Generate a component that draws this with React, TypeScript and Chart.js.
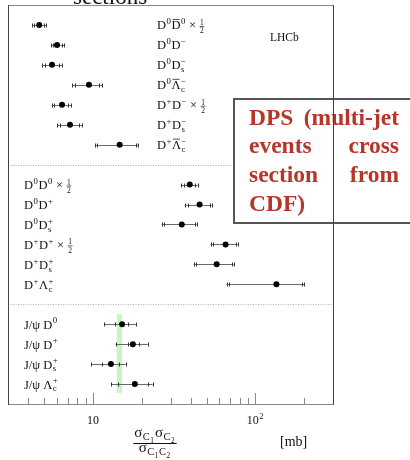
import { useEffect, useRef } from "react";
import { Chart, registerables } from "chart.js";

Chart.register(...registerables);

const W = 410;
const H = 460;
const SERIF = '"Liberation Serif", "DejaVu Serif", serif';

// Horizontal log axis
const xMin = 3;
const xMax = 300;
const majorTicks = [10, 100];
const majorTickLabels = ["10", "10^2"];
const minorTicks = [4, 5, 6, 7, 8, 9, 20, 30, 40, 50, 60, 70, 80, 90, 200];

// Opposite-charge open-charm pairs (values in mb)
const oppLabels = [
  "D^0\\bar{D}^0 × \\half",
  "D^0D^−",
  "D^0D_s^−",
  "D^0\\bar{Λ}_c^−",
  "D^+D^− × \\half",
  "D^+D_s^−",
  "D^+\\bar{Λ}_c^−",
];
const oppValue = [4.67, 6.01, 5.6, 9.45, 6.45, 7.22, 14.6];
const oppStatLo = [4.35, 5.69, 5.08, 7.76, 5.77, 6.28, 10.6];
const oppStatHi = [5.0, 6.45, 6.18, 10.9, 7.03, 8.2, 18.4];
const oppTotLo = [4.23, 5.52, 4.86, 7.43, 5.6, 6.01, 10.3];
const oppTotHi = [5.15, 6.64, 6.45, 11.4, 7.33, 8.56, 18.9];

// Same-charge open-charm pairs
const sameLabels = [
  "D^0D^0 × \\half",
  "D^0D^+",
  "D^0D_s^+",
  "D^+D^+ × \\half",
  "D^+D_s^+",
  "D^+Λ_c^+",
];
const sameValue = [39.4, 45.3, 35.2, 65.5, 57.7, 134.5];
const sameStatLo = [36.2, 38.3, 27.3, 54.5, 42.8, 69.2];
const sameStatHi = [42.3, 52.2, 42.3, 75.4, 71.3, 194];
const sameTotLo = [34.7, 36.7, 26.5, 53.0, 41.7, 66.4];
const sameTotHi = [44.1, 53.7, 43.5, 77.6, 73.3, 200];

// J/psi plus open charm
const psiLabels = ["J/ψ D^0", "J/ψ D^+", "J/ψ D_s^+", "J/ψ Λ_c^+"];
const psiValue = [15.1, 17.6, 12.9, 18.1];
const psiStatLo = [13.6, 16.4, 11.35, 14.2];
const psiStatHi = [16.4, 19.1, 14.4, 21.7];
const psiTotLo = [11.7, 13.8, 9.72, 12.9];
const psiTotHi = [18.4, 21.7, 15.9, 23.3];

// DPS effective cross section band (multi-jet events, CDF)
const cdfBand = [14.0, 15.1];

const experimentLabel = "LHCb";
const axisNumerator = "σ_{C_1}σ_{C_2}";
const axisDenominator = "σ_{C_1C_2}";
const unitLabel = "[mb]";
const headerText = "sections";
const noteLines: [string, string][] = [
  ["DPS", "(multi-jet"],
  ["events", "cross"],
  ["section", "from"],
  ["CDF)", ""],
];

// ---- row layout: three blocks separated by dotted lines
const ROW_MAX = 20;
const blocks = [
  { start: 1, labels: oppLabels, v: oppValue, sl: oppStatLo, sh: oppStatHi, tl: oppTotLo, th: oppTotHi, labelX: 157 },
  { start: 9, labels: sameLabels, v: sameValue, sl: sameStatLo, sh: sameStatHi, tl: sameTotLo, th: sameTotHi, labelX: 24 },
  { start: 16, labels: psiLabels, v: psiValue, sl: psiStatLo, sh: psiStatHi, tl: psiTotLo, th: psiTotHi, labelX: 24 },
];
const separatorRows = [8, 15];

// ---- tiny TeX-like rich text: ^ _ \bar{} \half
type RNode =
  | { k: "t"; s: string }
  | { k: "bar"; c: RNode[] }
  | { k: "sc"; sup?: RNode[]; sub?: RNode[] }
  | { k: "half" };

function readGroup(s: string, i: number): [string, number] {
  if (s[i] === "{") {
    let depth = 1;
    let j = i + 1;
    while (j < s.length && depth > 0) {
      if (s[j] === "{") depth++;
      else if (s[j] === "}") depth--;
      j++;
    }
    return [s.slice(i + 1, j - 1), j];
  }
  return [s[i], i + 1];
}

function parseRich(s: string): RNode[] {
  const out: RNode[] = [];
  let i = 0;
  while (i < s.length) {
    const ch = s[i];
    if (ch === "^" || ch === "_") {
      const [g, j] = readGroup(s, i + 1);
      let last = out[out.length - 1] as any;
      if (!last || last.k !== "sc" || (ch === "^" ? last.sup : last.sub)) {
        last = { k: "sc" };
        out.push(last);
      }
      if (ch === "^") last.sup = parseRich(g);
      else last.sub = parseRich(g);
      i = j;
    } else if (s.startsWith("\\bar", i)) {
      const [g, j] = readGroup(s, i + 4);
      out.push({ k: "bar", c: parseRich(g) });
      i = j;
    } else if (s.startsWith("\\half", i)) {
      out.push({ k: "half" });
      i += 5;
    } else {
      const last = out[out.length - 1];
      if (last && last.k === "t") last.s += ch;
      else out.push({ k: "t", s: ch });
      i++;
    }
  }
  return out;
}

function rich(ctx: CanvasRenderingContext2D, nodes: RNode[], x: number, y: number, size: number, draw: boolean): number {
  let cx = x;
  for (const n of nodes) {
    if (n.k === "t") {
      ctx.font = `${size}px ${SERIF}`;
      const w = ctx.measureText(n.s).width;
      if (draw) ctx.fillText(n.s, cx, y);
      cx += w;
    } else if (n.k === "bar") {
      const w = rich(ctx, n.c, cx, y, size, draw);
      if (draw) {
        ctx.save();
        ctx.lineWidth = Math.max(0.7, size * 0.06);
        ctx.beginPath();
        ctx.moveTo(cx + w * 0.12, y - size * 0.8);
        ctx.lineTo(cx + w * 0.9, y - size * 0.8);
        ctx.stroke();
        ctx.restore();
      }
      cx += w;
    } else if (n.k === "sc") {
      const s2 = size * 0.7;
      let w = 0;
      if (n.sup) w = Math.max(w, rich(ctx, n.sup, cx + 0.5, y - size * 0.42, s2, draw));
      if (n.sub) w = Math.max(w, rich(ctx, n.sub, cx + 0.5, y + size * 0.22, s2, draw));
      cx += w + 1;
    } else {
      const s2 = size * 0.6;
      ctx.font = `${s2}px ${SERIF}`;
      const w = ctx.measureText("2").width;
      if (draw) {
        ctx.fillText("1", cx + 1, y - size * 0.36);
        ctx.fillText("2", cx + 1, y + size * 0.32);
        ctx.save();
        ctx.lineWidth = 0.7;
        ctx.beginPath();
        ctx.moveTo(cx + 0.5, y - size * 0.24);
        ctx.lineTo(cx + w + 1.5, y - size * 0.24);
        ctx.stroke();
        ctx.restore();
      }
      cx += w + 2;
    }
  }
  return cx - x;
}

function drawRich(ctx: CanvasRenderingContext2D, text: string, x: number, y: number, size: number, align: "left" | "center" = "left") {
  const nodes = parseRich(text);
  const w = rich(ctx, nodes, 0, 0, size, false);
  const x0 = align === "center" ? x - w / 2 : x;
  rich(ctx, nodes, x0, y, size, true);
  return w;
}

const crisp = (v: number) => Math.round(v) + 0.5;

const decor = {
  id: "decor",
  beforeDatasetsDraw(chart: any) {
    const { ctx, chartArea: a, scales } = chart;
    const xs = scales.x;
    const ys = scales.y;
    ctx.save();

    // CDF band behind the J/psi block
    const bx0 = xs.getPixelForValue(cdfBand[0]);
    const bx1 = xs.getPixelForValue(cdfBand[1]);
    const by0 = ys.getPixelForValue(15.5);
    const by1 = ys.getPixelForValue(19.45);
    ctx.fillStyle = "#c8f5c3";
    ctx.fillRect(bx0, by0, bx1 - bx0, by1 - by0);

    // dotted block separators
    ctx.strokeStyle = "#b0b0b0";
    ctx.lineWidth = 1;
    ctx.setLineDash([1, 1.5]);
    for (const r of separatorRows) {
      const y = crisp(ys.getPixelForValue(r));
      ctx.beginPath();
      ctx.moveTo(a.left, y);
      ctx.lineTo(a.right, y);
      ctx.stroke();
    }
    ctx.setLineDash([]);

    // error bars with stat and total ticks
    for (const b of blocks) {
      b.v.forEach((_, i) => {
        const y = crisp(ys.getPixelForValue(b.start + i));
        const x0 = xs.getPixelForValue(b.tl[i]);
        const x1 = xs.getPixelForValue(b.th[i]);
        ctx.strokeStyle = "#6a6a6a";
        ctx.lineWidth = 1;
        ctx.beginPath();
        ctx.moveTo(x0, y);
        ctx.lineTo(x1, y);
        ctx.stroke();
        ctx.strokeStyle = "#333";
        for (const v of [b.tl[i], b.sl[i], b.sh[i], b.th[i]]) {
          const x = crisp(xs.getPixelForValue(v));
          ctx.beginPath();
          ctx.moveTo(x, y - 2);
          ctx.lineTo(x, y + 2);
          ctx.stroke();
        }
      });
    }
    ctx.restore();
  },
  afterDraw(chart: any) {
    const { ctx, chartArea: a, scales } = chart;
    const xs = scales.x;
    const ys = scales.y;
    ctx.save();
    ctx.textAlign = "left";
    ctx.textBaseline = "alphabetic";
    ctx.fillStyle = "#111";
    ctx.strokeStyle = "#111";

    // row labels
    for (const b of blocks) {
      b.labels.forEach((lab, i) => {
        const y = ys.getPixelForValue(b.start + i) + 4.5;
        drawRich(ctx, lab, b.labelX, y, 12.5);
      });
    }

    // experiment tag
    ctx.font = `11.5px ${SERIF}`;
    ctx.fillText(experimentLabel, 270, 41);

    // clipped header word
    ctx.font = `23px ${SERIF}`;
    ctx.fillText(headerText, 73, 4);

    // axis ticks (pointing inwards)
    ctx.strokeStyle = "#888";
    ctx.lineWidth = 1;
    for (const t of minorTicks) {
      const x = crisp(xs.getPixelForValue(t));
      ctx.beginPath();
      ctx.moveTo(x, a.bottom);
      ctx.lineTo(x, a.bottom - 6);
      ctx.stroke();
    }
    for (const t of majorTicks) {
      const x = crisp(xs.getPixelForValue(t));
      ctx.beginPath();
      ctx.moveTo(x, a.bottom);
      ctx.lineTo(x, a.bottom - 11);
      ctx.stroke();
    }
    ctx.fillStyle = "#111";
    ctx.strokeStyle = "#111";
    majorTicks.forEach((t, i) => {
      drawRich(ctx, majorTickLabels[i], xs.getPixelForValue(t), 424, 12, "center");
    });

    // axis title as a fraction
    const cx = 155;
    const wn = drawRich(ctx, axisNumerator, cx, 437, 15, "center");
    const wd = drawRich(ctx, axisDenominator, cx, 452, 15, "center");
    const wl = Math.max(wn, wd) + 2;
    ctx.lineWidth = 1;
    ctx.beginPath();
    ctx.moveTo(cx - wl / 2, 443.5);
    ctx.lineTo(cx + wl / 2, 443.5);
    ctx.stroke();
    ctx.font = `14px ${SERIF}`;
    ctx.fillText(unitLabel, 280, 446);

    // frame
    ctx.lineWidth = 1;
    ctx.strokeStyle = "#8a8a8a";
    ctx.beginPath();
    ctx.moveTo(a.left, crisp(a.top));
    ctx.lineTo(a.right, crisp(a.top));
    ctx.moveTo(a.left, crisp(a.bottom));
    ctx.lineTo(a.right + 1, crisp(a.bottom));
    ctx.stroke();
    ctx.strokeStyle = "#444";
    ctx.beginPath();
    ctx.moveTo(crisp(a.left), a.top);
    ctx.lineTo(crisp(a.left), a.bottom + 1);
    ctx.stroke();

    // annotation box
    ctx.fillStyle = "#fff";
    ctx.fillRect(233, 98, 190, 125);
    ctx.strokeStyle = "#555";
    ctx.lineWidth = 2;
    ctx.strokeRect(234, 99, 190, 124);
    ctx.font = `bold 23.5px ${SERIF}`;
    ctx.fillStyle = "#b8352a";
    const baselines = [125, 153, 182, 211];
    noteLines.forEach(([l, r], i) => {
      ctx.textAlign = "left";
      ctx.fillText(l, 249, baselines[i]);
      if (r) {
        ctx.textAlign = "right";
        ctx.fillText(r, 399, baselines[i]);
      }
    });
    ctx.textAlign = "left";

    // right frame edge on top of the box
    ctx.strokeStyle = "#444";
    ctx.lineWidth = 1;
    ctx.beginPath();
    ctx.moveTo(crisp(a.right), a.top);
    ctx.lineTo(crisp(a.right), a.bottom + 1);
    ctx.stroke();
    ctx.restore();
  },
};

export default function App() {
  const ref = useRef<HTMLCanvasElement | null>(null);
  useEffect(() => {
    if (!ref.current) return;
    const points: { x: number; y: number }[] = [];
    for (const b of blocks) b.v.forEach((v, i) => points.push({ x: v, y: b.start + i }));
    const chart = new Chart(ref.current, {
      type: "scatter",
      data: {
        datasets: [
          {
            data: points,
            pointRadius: 3,
            pointBorderWidth: 0,
            pointBackgroundColor: "#000",
            pointBorderColor: "#000",
            showLine: false,
          },
        ],
      },
      options: {
        animation: false,
        responsive: false,
        maintainAspectRatio: false,
        layout: { padding: { left: 8, right: 77, top: 5, bottom: 56 } },
        scales: {
          x: { type: "logarithmic", min: xMin, max: xMax, display: false },
          y: { type: "linear", min: 0, max: ROW_MAX, reverse: true, display: false },
        },
        plugins: { legend: { display: false }, tooltip: { enabled: false } },
      },
      plugins: [decor],
    });
    return () => chart.destroy();
  }, []);
  return (
    <div style={{ position: "absolute", left: 0, top: 0, width: W, height: H, background: "#fff" }}>
      <canvas ref={ref} width={W} height={H} style={{ width: W, height: H, display: "block" }} />
    </div>
  );
}
